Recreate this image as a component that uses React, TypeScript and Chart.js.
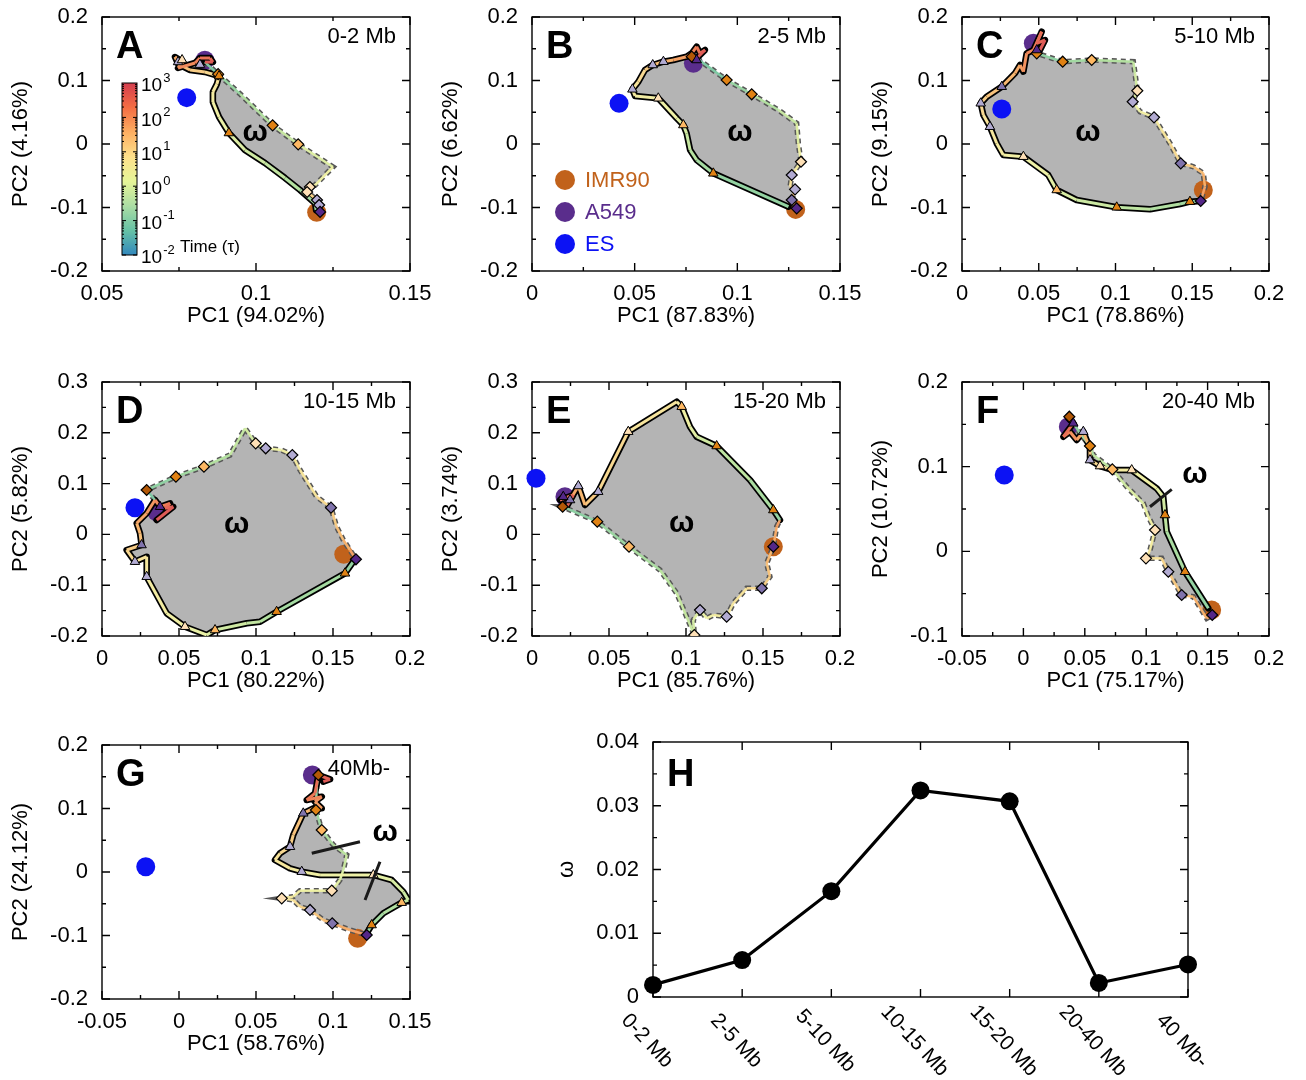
import React, { useEffect, useRef } from 'react';
import { Chart, registerables } from 'chart.js';

Chart.register(...registerables);

const FONT = '"Liberation Sans", Arial, Helvetica, sans-serif';
Chart.defaults.font.family = FONT;

// ---------- shared categories / legend ----------
const cellLabels = ['IMR90', 'A549', 'ES'];
const cellColors = ['#c1621b', '#5a2d8c', '#0c12f4'];
const markerPalette = ['#b35806', '#e08214', '#fdb863', '#fee0b6', '#b2abd2', '#8073ac', '#542788'];
const spectral = ['#3288bd', '#66c2a5', '#abdda4', '#e6f598', '#fee08b', '#fdae61', '#f46d43', '#d53e4f'];
const pathStops = ['#4a9fb5', '#7cc8a4', '#b9e3a0', '#eef2a6', '#f7e29a', '#f7b26b', '#ee7d57', '#d94f57'];
const colorbarExps = [3, 2, 1, 0, -1, -2];

// ---------- Panel A : 0-2 Mb ----------
const aCells = [[0.1197, -0.1076], [0.0834, 0.132], [0.0775, 0.073]];
const aSolid = [[0.1195, -0.104], [0.1192, -0.0934], [0.1143, -0.0724], [0.1094, -0.0535], [0.1029, -0.0299], [0.0964, -0.0094], [0.0912, 0.0173], [0.088, 0.0425], [0.086, 0.0661], [0.086, 0.0819], [0.0873, 0.0945], [0.088, 0.107], [0.0834, 0.1134], [0.0786, 0.1165], [0.0747, 0.126], [0.0737, 0.137], [0.0763, 0.129], [0.0747, 0.1197], [0.0802, 0.1276], [0.0818, 0.1354], [0.0851, 0.1354], [0.086, 0.129], [0.0834, 0.129]];
const aDashed = [[0.0834, 0.129], [0.0877, 0.11], [0.0948, 0.079], [0.1054, 0.0294], [0.1137, -0.0005], [0.125, -0.0362], [0.1192, -0.0646], [0.1175, -0.0677], [0.1166, -0.0756], [0.1198, -0.0882], [0.119, -0.096], [0.1208, -0.107]];
const aTri = [[0.0912, 0.0173, 1], [0.088, 0.107, 1], [0.0747, 0.1292, 4], [0.076, 0.1323, 3], [0.0818, 0.125, 4]];
const aDia = [[0.0877, 0.11, 1], [0.1054, 0.0294, 1], [0.1137, -0.0005, 2], [0.1175, -0.0677, 3], [0.1166, -0.0756, 3], [0.1198, -0.0882, 4], [0.1205, -0.096, 4], [0.1208, -0.107, 6]];
const aOmega = [0.0997, 0.0173];

// ---------- Panel B : 2-5 Mb ----------
const bCells = [[0.1284, -0.103], [0.0786, 0.127], [0.0424, 0.064]];
const bSolid = [[0.1249, -0.0987], [0.0883, -0.0462], [0.0802, -0.0252], [0.077, -0.0094], [0.0753, 0.0168], [0.0737, 0.0299], [0.0705, 0.0405], [0.0615, 0.072], [0.0502, 0.0756], [0.0489, 0.0861], [0.0518, 0.098], [0.055, 0.1165], [0.0588, 0.1244], [0.064, 0.1296], [0.0688, 0.1323], [0.0753, 0.1375], [0.0778, 0.1428], [0.0802, 0.1532], [0.0818, 0.1428], [0.0843, 0.148], [0.0802, 0.135]];
const bDashed = [[0.0802, 0.135], [0.0948, 0.1008], [0.107, 0.0783], [0.12, 0.0535], [0.1289, 0.0326], [0.1297, 0.0011], [0.131, -0.0279], [0.1265, -0.0488], [0.1257, -0.0672], [0.1281, -0.0714], [0.1265, -0.0882], [0.1289, -0.1013]];
const bTri = [[0.0883, -0.0462, 1], [0.0737, 0.0299, 2], [0.0615, 0.072, 3], [0.0489, 0.0861, 4], [0.0588, 0.1244, 4], [0.064, 0.1296, 4], [0.0802, 0.1323, 6]];
const bDia = [[0.0778, 0.1375, 0], [0.0948, 0.1008, 1], [0.107, 0.0783, 1], [0.131, -0.0279, 3], [0.1265, -0.0488, 4], [0.1281, -0.0714, 4], [0.1265, -0.0882, 5], [0.1289, -0.1013, 6]];
const bOmega = [0.1013, 0.0173];

// ---------- Panel C : 5-10 Mb ----------
const cCells = [[0.1572, -0.0724], [0.0465, 0.1586], [0.0259, 0.0551]];
const cSolid = [[0.1555, -0.0898], [0.1485, -0.0908], [0.142, -0.0945], [0.1225, -0.1029], [0.1008, -0.0997], [0.0747, -0.0882], [0.0617, -0.0724], [0.0562, -0.0488], [0.04, -0.02], [0.0269, -0.0173], [0.0226, 0.0011], [0.0182, 0.0272], [0.0139, 0.0457], [0.0122, 0.0641], [0.0161, 0.0745], [0.0259, 0.0902], [0.0345, 0.1113], [0.0378, 0.1244], [0.04, 0.1139], [0.0421, 0.1428], [0.0465, 0.148], [0.0519, 0.1768], [0.0487, 0.1586], [0.0541, 0.1638], [0.0508, 0.148]];
const cDashed = [[0.0508, 0.148], [0.0487, 0.1428], [0.0656, 0.1296], [0.0845, 0.1323], [0.1116, 0.1296], [0.1127, 0.1113], [0.1142, 0.0839], [0.1112, 0.0666], [0.116, 0.0509], [0.1251, 0.042], [0.1301, 0.022], [0.1355, 0.0011], [0.1425, -0.0304], [0.1507, -0.0357], [0.1572, -0.0462], [0.1583, -0.0672], [0.1555, -0.0898]];
const cTri = [[0.1485, -0.0908, 1], [0.1008, -0.0997, 1], [0.0617, -0.0724, 2], [0.04, -0.02, 3], [0.0182, 0.0272, 4], [0.0122, 0.0641, 4], [0.0259, 0.0902, 5], [0.0487, 0.148, 6]];
const cDia = [[0.0487, 0.1428, 1], [0.0656, 0.1296, 1], [0.0845, 0.1323, 2], [0.1142, 0.0839, 3], [0.1112, 0.0666, 4], [0.1251, 0.042, 4], [0.1425, -0.0304, 5], [0.1555, -0.0898, 6]];
const cOmega = [0.0821, 0.0173];

// ---------- Panel D : 10-15 Mb ----------
const dCells = [[0.157, -0.0392], [0.0355, 0.0447], [0.0214, 0.0526]];
const dSolid = [[0.1632, -0.0537], [0.1578, -0.0766], [0.1134, -0.1522], [0.1026, -0.1718], [0.094, -0.175], [0.0734, -0.1882], [0.068, -0.198], [0.0539, -0.1817], [0.042, -0.1553], [0.029, -0.0833], [0.029, -0.0439], [0.0214, -0.0537], [0.016, -0.0307], [0.0257, -0.0209], [0.0247, 0.0022], [0.0225, 0.0219], [0.029, 0.0415], [0.0344, 0.0677], [0.0377, 0.0545], [0.0442, 0.0612], [0.0409, 0.0514], [0.0463, 0.0545], [0.0355, 0.0283]];
const dDashed = [[0.0344, 0.0677], [0.029, 0.0874], [0.048, 0.1136], [0.0662, 0.1333], [0.0831, 0.1563], [0.0929, 0.2089], [0.0998, 0.1793], [0.1063, 0.1695], [0.1166, 0.1661], [0.1236, 0.1563], [0.1286, 0.1268], [0.1394, 0.0742], [0.1487, 0.0526], [0.1523, 0.0152], [0.1567, -0.011], [0.161, -0.0307], [0.1649, -0.049]];
const dTri = [[0.1578, -0.0766, 1], [0.1134, -0.1522, 1], [0.0734, -0.1882, 2], [0.0539, -0.1817, 3], [0.029, -0.0833, 4], [0.0214, -0.0537, 4], [0.0257, -0.0209, 5], [0.0377, 0.0545, 6]];
const dDia = [[0.029, 0.0874, 0], [0.048, 0.1136, 1], [0.0662, 0.1333, 2], [0.0998, 0.1793, 3], [0.1063, 0.1695, 4], [0.1236, 0.1563, 4], [0.1487, 0.0526, 5], [0.1649, -0.049, 6]];
const dOmega = [0.0875, 0.0185];

// ---------- Panel E : 15-20 Mb ----------
const eCells = [[0.1567, -0.0242], [0.0214, 0.0742], [0.0026, 0.1104]];
const eSolid = [[0.161, 0.0283], [0.1567, 0.048], [0.1416, 0.1071], [0.1199, 0.174], [0.1069, 0.1923], [0.1026, 0.212], [0.0972, 0.2514], [0.094, 0.2612], [0.0625, 0.2022], [0.043, 0.0841], [0.0344, 0.0579], [0.0301, 0.0953], [0.0247, 0.0677], [0.0203, 0.0742], [0.0182, 0.0677], [0.0268, 0.0776], [0.0225, 0.0545]];
const eDashed = [[0.0225, 0.0545], [0.0199, 0.0545], [0.0424, 0.025], [0.063, -0.0242], [0.0831, -0.0701], [0.094, -0.116], [0.1054, -0.198], [0.1047, -0.1685], [0.1091, -0.1488], [0.1134, -0.1652], [0.1177, -0.1587], [0.1264, -0.162], [0.1307, -0.1356], [0.1394, -0.1061], [0.1492, -0.1061], [0.1545, -0.0833], [0.1524, -0.0569], [0.1567, -0.0242], [0.1589, 0.0152], [0.161, 0.0283]];
const eTri = [[0.1567, 0.048, 1], [0.1199, 0.174, 1], [0.0972, 0.2514, 2], [0.0625, 0.2022, 3], [0.043, 0.0841, 4], [0.0301, 0.0953, 4], [0.0247, 0.0677, 5], [0.0203, 0.0742, 6]];
const eDia = [[0.0199, 0.0545, 0], [0.0424, 0.025, 1], [0.063, -0.0242, 2], [0.1054, -0.198, 3], [0.1091, -0.1488, 4], [0.1264, -0.162, 4], [0.1492, -0.1061, 5], [0.1567, -0.0242, 6]];
const eOmega = [0.0972, 0.0218];

// ---------- Panel F : 20-40 Mb ----------
const fCells = [[0.1533, -0.0693], [0.0366, 0.1472], [-0.0156, 0.0901]];
const fSolid = [[0.1506, -0.0673], [0.1316, -0.0241], [0.1167, 0.0232], [0.1153, 0.0429], [0.1139, 0.0645], [0.1085, 0.0744], [0.0882, 0.096], [0.0732, 0.096], [0.0624, 0.1007], [0.0542, 0.1078], [0.0542, 0.1216], [0.0488, 0.1413], [0.0434, 0.1315], [0.0379, 0.1413], [0.0325, 0.1354], [0.0406, 0.1512], [0.0366, 0.1571]];
const fDashed = [[0.0366, 0.1571], [0.0374, 0.159], [0.0461, 0.1394], [0.0542, 0.1244], [0.0569, 0.1137], [0.0724, 0.0968], [0.0841, 0.0763], [0.0976, 0.0567], [0.1017, 0.0409], [0.1072, 0.0252], [0.1031, 0.0015], [0.0998, -0.0083], [0.1126, -0.0083], [0.118, -0.0241], [0.1289, -0.0516], [0.1384, -0.0536], [0.1493, -0.0791], [0.1538, -0.0752]];
const fTri = [[0.1316, -0.0241, 1], [0.1153, 0.0429, 1], [0.0882, 0.096, 3], [0.0624, 0.1007, 3], [0.0542, 0.1078, 4], [0.0488, 0.1413, 4], [0.0406, 0.1512, 6]];
const fDia = [[0.0374, 0.159, 0], [0.0542, 0.1244, 1], [0.0724, 0.0968, 2], [0.1072, 0.0252, 3], [0.0998, -0.0083, 3], [0.118, -0.0241, 4], [0.1289, -0.0516, 5], [0.1538, -0.0752, 6]];
const fOmega = [0.1397, 0.0901];
const fPointers = [[[0.1031, 0.0527], [0.1208, 0.0732]]];

// ---------- Panel G : 40 Mb- ----------
const gCells = [[0.116, -0.1045], [0.0866, 0.1528], [-0.0216, 0.0084]];
const gSolid = [[0.1219, -0.0966], [0.1251, -0.0835], [0.1327, -0.065], [0.1446, -0.0483], [0.1489, -0.0441], [0.1456, -0.031], [0.1381, -0.0126], [0.1262, -0.0047], [0.0916, -0.0047], [0.0797, 0.0005], [0.0721, 0.0058], [0.0623, 0.0189], [0.0656, 0.0294], [0.0721, 0.0398], [0.0742, 0.0583], [0.0807, 0.0924], [0.0872, 0.1003], [0.0927, 0.1003], [0.0883, 0.1107], [0.0927, 0.1186], [0.0829, 0.1134], [0.0883, 0.1239], [0.0905, 0.1528], [0.0981, 0.146], [0.0937, 0.1422]];
const gDashed = [[0.0905, 0.1528], [0.0894, 0.1344], [0.0889, 0.0976], [0.0927, 0.0661], [0.1002, 0.0425], [0.1089, 0.0268], [0.1067, 0.0031], [0.1045, -0.0126], [0.0992, -0.0294], [0.0786, -0.0294], [0.0742, -0.0388], [0.0667, -0.0415], [0.0742, -0.0441], [0.0786, -0.0546], [0.0851, -0.0598], [0.0937, -0.0756], [0.0995, -0.0808], [0.111, -0.0913], [0.1219, -0.0992]];
const gTri = [[0.1251, -0.0835, 1], [0.1446, -0.0483, 2], [0.1262, -0.0047, 3], [0.0797, 0.0005, 4], [0.0721, 0.0398, 4], [0.0807, 0.0924, 5]];
const gDia = [[0.0905, 0.1528, 0], [0.0889, 0.0976, 1], [0.0927, 0.0661, 2], [0.0992, -0.0294, 3], [0.0667, -0.0415, 3], [0.0851, -0.0598, 4], [0.0995, -0.0808, 5], [0.1219, -0.0992, 6]];
const gOmega = [0.1338, 0.0614];
const gPointers = [[[0.0862, 0.0294], [0.1175, 0.0477]], [[0.1305, 0.0162], [0.1208, -0.0441]]];

// ---------- Panel H : omega vs. distance ----------
const hLabels = ['0-2 Mb', '2-5 Mb', '5-10 Mb', '10-15 Mb', '15-20 Mb', '20-40 Mb', '40 Mb-'];
const hValues = [0.0019, 0.0058, 0.0166, 0.0324, 0.0307, 0.0022, 0.0051];

const panels: any[] = [
  { letter: 'A', range: '0-2 Mb', xTitle: 'PC1 (94.02%)', yTitle: 'PC2 (4.16%)', x: [0.05, 0.15, 0.05], y: [-0.2, 0.2, 0.1], cells: aCells, solid: aSolid, dashed: aDashed, tri: aTri, dia: aDia, omega: aOmega, left: 0, top: 0, width: 450, plotW: 308, colorbar: true },
  { letter: 'B', range: '2-5 Mb', xTitle: 'PC1 (87.83%)', yTitle: 'PC2 (6.62%)', x: [0, 0.15, 0.05], y: [-0.2, 0.2, 0.1], cells: bCells, solid: bSolid, dashed: bDashed, tri: bTri, dia: bDia, omega: bOmega, left: 430, top: 0, width: 450, plotW: 308, legend: true },
  { letter: 'C', range: '5-10 Mb', xTitle: 'PC1 (78.86%)', yTitle: 'PC2 (9.15%)', x: [0, 0.2, 0.05], y: [-0.2, 0.2, 0.1], cells: cCells, solid: cSolid, dashed: cDashed, tri: cTri, dia: cDia, omega: cOmega, left: 860, top: 0, width: 446, plotW: 307 },
  { letter: 'D', range: '10-15 Mb', xTitle: 'PC1 (80.22%)', yTitle: 'PC2 (5.82%)', x: [0, 0.2, 0.05], y: [-0.2, 0.3, 0.1], cells: dCells, solid: dSolid, dashed: dDashed, tri: dTri, dia: dDia, omega: dOmega, left: 0, top: 365, width: 450, plotW: 308 },
  { letter: 'E', range: '15-20 Mb', xTitle: 'PC1 (85.76%)', yTitle: 'PC2 (3.74%)', x: [0, 0.2, 0.05], y: [-0.2, 0.3, 0.1], cells: eCells, solid: eSolid, dashed: eDashed, tri: eTri, dia: eDia, omega: eOmega, left: 430, top: 365, width: 450, plotW: 308 },
  { letter: 'F', range: '20-40 Mb', xTitle: 'PC1 (75.17%)', yTitle: 'PC2 (10.72%)', x: [-0.05, 0.2, 0.05], y: [-0.1, 0.2, 0.1], cells: fCells, solid: fSolid, dashed: fDashed, tri: fTri, dia: fDia, omega: fOmega, pointers: fPointers, left: 860, top: 365, width: 446, plotW: 307 },
  { letter: 'G', range: '40Mb-', xTitle: 'PC1 (58.76%)', yTitle: 'PC2 (24.12%)', x: [-0.05, 0.15, 0.05], y: [-0.2, 0.2, 0.1], cells: gCells, solid: gSolid, dashed: gDashed, tri: gTri, dia: gDia, omega: gOmega, pointers: gPointers, left: 0, top: 728, width: 450, plotW: 308, rangeDx: 20, rangeDy: 30 },
];

// ---------- helpers ----------
function hexToRgb(h: string) {
  const n = parseInt(h.slice(1), 16);
  return [(n >> 16) & 255, (n >> 8) & 255, n & 255];
}
function cmapAt(stops: string[], t: number) {
  t = Math.max(0, Math.min(1, t));
  const s = t * (stops.length - 1);
  const i = Math.min(Math.floor(s), stops.length - 2);
  const f = s - i;
  const a = hexToRgb(stops[i]);
  const b = hexToRgb(stops[i + 1]);
  return `rgb(${a.map((v, k) => Math.round(v + (b[k] - v) * f)).join(',')})`;
}
const fmt = (v: any) => String(Number(Number(v).toFixed(3)));

function drawFrame(ctx: any, a: any, xs: any, ys: any, xStep: number, yStep: number, xMinor: boolean) {
  ctx.strokeStyle = '#000';
  ctx.lineWidth = 1.4;
  ctx.strokeRect(a.left, a.top, a.right - a.left, a.bottom - a.top);
  ctx.beginPath();
  const xDiv = xMinor ? 2 : 1;
  const nx = Math.round((xs.max - xs.min) / (xStep / xDiv));
  for (let i = 0; i <= nx; i++) {
    const px = xs.getPixelForValue(xs.min + (i * xStep) / xDiv);
    const L = i % xDiv === 0 ? 8 : 4;
    ctx.moveTo(px, a.bottom); ctx.lineTo(px, a.bottom - L);
    ctx.moveTo(px, a.top); ctx.lineTo(px, a.top + L);
  }
  const ny = Math.round((ys.max - ys.min) / (yStep / 2));
  for (let i = 0; i <= ny; i++) {
    const py = ys.getPixelForValue(ys.min + (i * yStep) / 2);
    const L = i % 2 === 0 ? 8 : 4;
    ctx.moveTo(a.left, py); ctx.lineTo(a.left + L, py);
    ctx.moveTo(a.right, py); ctx.lineTo(a.right - L, py);
  }
  ctx.stroke();
}

function drawColorbar(ctx: any, a: any) {
  const x0 = a.left + 20, y0 = a.top + 66, w = 15, h = 172;
  const g = ctx.createLinearGradient(0, y0 + h, 0, y0);
  spectral.forEach((c, i) => g.addColorStop(i / (spectral.length - 1), c));
  ctx.fillStyle = g;
  ctx.fillRect(x0, y0, w, h);
  ctx.strokeStyle = '#000';
  ctx.lineWidth = 1;
  ctx.strokeRect(x0, y0, w, h);
  const dec = h / (colorbarExps.length - 1);
  ctx.beginPath();
  for (let d = 0; d < colorbarExps.length - 1; d++) {
    for (let m = 1; m < 10; m++) {
      const yy = y0 + h - d * dec - Math.log10(m) * dec;
      const L = m === 1 ? 4 : 2;
      ctx.moveTo(x0, yy); ctx.lineTo(x0 + L, yy);
      ctx.moveTo(x0 + w, yy); ctx.lineTo(x0 + w - L, yy);
    }
  }
  ctx.stroke();
  ctx.fillStyle = '#000';
  ctx.textAlign = 'left';
  ctx.textBaseline = 'middle';
  colorbarExps.forEach((e, i) => {
    const yy = y0 + i * dec;
    ctx.font = `19px ${FONT}`;
    ctx.fillText('10', x0 + w + 4, yy + 3);
    const tw = ctx.measureText('10').width;
    ctx.font = `13px ${FONT}`;
    ctx.fillText(String(e), x0 + w + 5 + tw, yy - 5);
  });
  ctx.font = `17px ${FONT}`;
  ctx.fillText('Time (τ)', a.left + 78, a.top + 230);
}

function drawLegend(ctx: any, a: any) {
  cellLabels.forEach((lab, i) => {
    const cy = a.top + 163 + i * 32;
    ctx.fillStyle = cellColors[i];
    ctx.beginPath();
    ctx.arc(a.left + 33, cy, 10, 0, Math.PI * 2);
    ctx.fill();
    ctx.font = `22px ${FONT}`;
    ctx.textAlign = 'left';
    ctx.textBaseline = 'middle';
    ctx.fillText(lab, a.left + 53, cy + 1);
  });
}

function decorPlugin(p: any) {
  return {
    id: 'decor' + p.letter,
    beforeDatasetsDraw(chart: any) {
      const { ctx, chartArea: a, scales } = chart;
      ctx.save();
      drawFrame(ctx, a, scales.x, scales.y, p.x[2], p.y[2], true);
      ctx.restore();
    },
    afterDraw(chart: any) {
      const { ctx, chartArea: a, scales } = chart;
      const xs = scales.x, ys = scales.y;
      ctx.save();
      ctx.fillStyle = '#000';
      ctx.font = `bold 38px ${FONT}`;
      ctx.textAlign = 'left';
      ctx.textBaseline = 'alphabetic';
      ctx.fillText(p.letter, a.left + 14, a.top + 41);
      ctx.font = `22px ${FONT}`;
      ctx.textAlign = 'right';
      ctx.fillText(p.range, a.right - (p.rangeDx ?? 14), a.top + (p.rangeDy ?? 26));
      if (p.pointers) {
        ctx.strokeStyle = '#1a1a1a';
        ctx.lineWidth = 3;
        ctx.beginPath();
        for (const seg of p.pointers) {
          ctx.moveTo(xs.getPixelForValue(seg[0][0]), ys.getPixelForValue(seg[0][1]));
          ctx.lineTo(xs.getPixelForValue(seg[1][0]), ys.getPixelForValue(seg[1][1]));
        }
        ctx.stroke();
      }
      ctx.fillStyle = '#000';
      ctx.font = `bold 30px ${FONT}`;
      ctx.textAlign = 'center';
      ctx.textBaseline = 'middle';
      ctx.fillText('ω', xs.getPixelForValue(p.omega[0]), ys.getPixelForValue(p.omega[1]));
      if (p.colorbar) drawColorbar(ctx, a);
      if (p.legend) drawLegend(ctx, a);
      ctx.restore();
    },
  };
}

function scatterConfig(p: any) {
  const pts = (arr: number[][]) => arr.map((d) => ({ x: d[0], y: d[1] }));
  const seg = (n: number, t0: number, t1: number) => (c: any) =>
    cmapAt(pathStops, t0 + ((t1 - t0) * c.p0DataIndex) / Math.max(1, n - 1));
  const font = { family: FONT, size: 22 };
  const noLine = { pointHoverRadius: 0 };
  return {
    type: 'scatter',
    data: {
      datasets: [
        { data: pts([...p.solid, ...p.dashed]), showLine: true, fill: 'shape', backgroundColor: '#b4b4b4', borderColor: 'rgba(0,0,0,0)', borderWidth: 0, pointRadius: 0, order: 9 },
        { data: pts(p.cells), showLine: false, pointRadius: 9.5, pointBackgroundColor: cellColors, pointBorderColor: cellColors, pointBorderWidth: 0, clip: false, order: 8 },
        { data: pts(p.dashed), showLine: true, borderColor: '#575757', borderWidth: 5.5, borderDash: [5, 4], pointRadius: 0, order: 7 },
        { data: pts(p.solid), showLine: true, borderColor: '#000', borderWidth: 6.5, borderJoinStyle: 'round', borderCapStyle: 'round', pointRadius: 0, order: 6 },
        { data: pts(p.dashed), showLine: true, borderColor: '#cfe8a0', borderWidth: 2.5, borderJoinStyle: 'round', pointRadius: 0, order: 5, segment: { borderColor: seg(p.dashed.length, 0.15, 0.8) } },
        { data: pts(p.solid), showLine: true, borderColor: '#f0e0a0', borderWidth: 3, borderJoinStyle: 'round', pointRadius: 0, order: 4, segment: { borderColor: seg(p.solid.length, 0.2, 1) } },
        { data: pts(p.dia), showLine: false, pointStyle: 'rectRot', pointRadius: 5.5, pointBackgroundColor: p.dia.map((d: number[]) => markerPalette[d[2]]), pointBorderColor: '#000', pointBorderWidth: 1.2, order: 2, ...noLine },
        { data: pts(p.tri), showLine: false, pointStyle: 'triangle', pointRadius: 5.5, pointBackgroundColor: p.tri.map((d: number[]) => markerPalette[d[2]]), pointBorderColor: '#000', pointBorderWidth: 1, order: 1, ...noLine },
      ],
    },
    options: {
      responsive: false,
      animation: false,
      events: [],
      layout: { padding: { top: 17, right: p.width - 102 - p.plotW, left: 0, bottom: 0 } },
      plugins: { legend: { display: false }, tooltip: { enabled: false } },
      scales: {
        x: {
          type: 'linear', position: 'bottom', min: p.x[0], max: p.x[1],
          ticks: { stepSize: p.x[2], font, color: '#000', padding: 10, autoSkip: false, maxRotation: 0, callback: fmt },
          grid: { display: false, drawTicks: false }, border: { display: false },
          title: { display: true, text: p.xTitle, font, color: '#000', padding: { top: 0, bottom: 11 } },
          afterFit: (s: any) => { s.height = 69; s.paddingLeft = 0; s.paddingRight = 0; },
        },
        y: {
          type: 'linear', position: 'left', min: p.y[0], max: p.y[1],
          ticks: { stepSize: p.y[2], font, color: '#000', padding: 14, autoSkip: false, callback: fmt },
          grid: { display: false, drawTicks: false }, border: { display: false },
          title: { display: true, text: p.yTitle, font, color: '#000', padding: { top: 8, bottom: 0 } },
          afterFit: (s: any) => { s.width = 102; s.paddingTop = 0; s.paddingBottom = 0; },
        },
      },
    },
    plugins: [decorPlugin(p)],
  };
}

const hPlugin = {
  id: 'hdecor',
  beforeDatasetsDraw(chart: any) {
    const { ctx, chartArea: a, scales } = chart;
    ctx.save();
    drawFrame(ctx, a, scales.x, scales.y, 1, 0.01, false);
    ctx.restore();
  },
  afterDraw(chart: any) {
    const { ctx, chartArea: a, scales } = chart;
    const xs = scales.x;
    ctx.save();
    ctx.fillStyle = '#000';
    ctx.font = `bold 38px ${FONT}`;
    ctx.textAlign = 'left';
    ctx.textBaseline = 'alphabetic';
    ctx.fillText('H', a.left + 14, a.top + 44);
    ctx.font = `21px ${FONT}`;
    ctx.textAlign = 'center';
    ctx.textBaseline = 'middle';
    const labels = chart.data.labels;
    labels.forEach((lab: string, i: number) => {
      const px = xs.getPixelForValue(i);
      ctx.save();
      ctx.translate(px - 6, a.bottom + 44);
      ctx.rotate((47 * Math.PI) / 180);
      ctx.fillText(lab, 0, 0);
      ctx.restore();
    });
    ctx.restore();
  },
};

function hConfig() {
  const font = { family: FONT, size: 22 };
  return {
    type: 'line',
    data: {
      labels: hLabels,
      datasets: [{ data: hValues, borderColor: '#000', borderWidth: 3.2, pointRadius: 9, pointBackgroundColor: '#000', pointBorderColor: '#000', pointBorderWidth: 0, tension: 0, clip: false, fill: false }],
    },
    options: {
      responsive: false,
      animation: false,
      events: [],
      layout: { padding: { top: 17, right: 118, left: 0, bottom: 0 } },
      plugins: { legend: { display: false }, tooltip: { enabled: false } },
      scales: {
        x: {
          type: 'category', offset: false,
          ticks: { display: false },
          grid: { display: false, drawTicks: false }, border: { display: false },
          afterFit: (s: any) => { s.height = 83; s.paddingLeft = 0; s.paddingRight = 0; },
        },
        y: {
          type: 'linear', min: 0, max: 0.04,
          ticks: { stepSize: 0.01, font, color: '#000', padding: 14, callback: fmt },
          grid: { display: false, drawTicks: false }, border: { display: false },
          title: { display: true, text: 'ω', font, color: '#000', padding: { top: 14, bottom: 0 } },
          afterFit: (s: any) => { s.width = 113; s.paddingTop = 0; s.paddingBottom = 0; },
        },
      },
    },
    plugins: [hPlugin],
  };
}

function ChartCanvas({ left, top, width, height, make }: any) {
  const ref = useRef<HTMLCanvasElement>(null);
  useEffect(() => {
    const chart = new Chart(ref.current as HTMLCanvasElement, make() as any);
    return () => chart.destroy();
  }, []);
  return (
    <canvas
      ref={ref}
      width={width}
      height={height}
      style={{ position: 'absolute', left, top, width, height }}
    />
  );
}

export default function App() {
  return (
    <div style={{ position: 'absolute', left: 0, top: 0, width: 1306, height: 1080, background: '#fff', overflow: 'hidden' }}>
      {panels.map((p) => (
        <ChartCanvas key={p.letter} left={p.left} top={p.top} width={p.width} height={340} make={() => scatterConfig(p)} />
      ))}
      <ChartCanvas left={540} top={725} width={766} height={355} make={hConfig} />
    </div>
  );
}
